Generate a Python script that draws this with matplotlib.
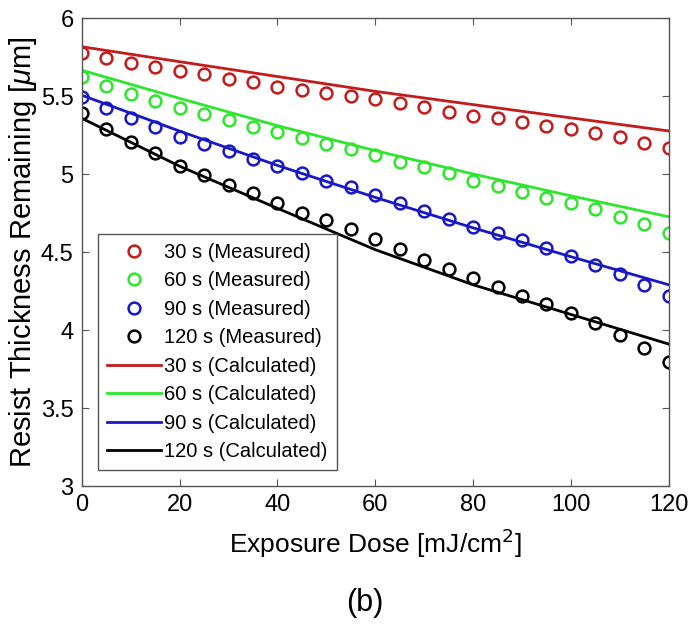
import numpy as np
import matplotlib.pyplot as plt

plt.rcParams['font.family'] = ['Liberation Sans', 'DejaVu Sans']
plt.rcParams['mathtext.fontset'] = 'custom'
plt.rcParams['mathtext.it'] = 'Liberation Sans:italic'

# exposure dose (mJ/cm2)
dose = np.arange(0, 121, 5)
dose_calc = np.arange(0, 121, 20)

# measured thickness (um) for each develop time
meas_30 = [5.774, 5.741, 5.709, 5.684, 5.660, 5.639, 5.611, 5.588, 5.560, 5.538, 5.517, 5.500, 5.479,
           5.453, 5.428, 5.400, 5.374, 5.357, 5.335, 5.308, 5.288, 5.261, 5.235, 5.201, 5.169]
meas_60 = [5.620, 5.566, 5.513, 5.468, 5.421, 5.383, 5.346, 5.303, 5.267, 5.229, 5.192, 5.158, 5.122,
           5.079, 5.043, 5.004, 4.957, 4.925, 4.887, 4.848, 4.812, 4.774, 4.726, 4.679, 4.620]
meas_90 = [5.496, 5.421, 5.361, 5.303, 5.239, 5.192, 5.147, 5.094, 5.054, 5.004, 4.957, 4.919, 4.865,
           4.812, 4.763, 4.712, 4.662, 4.620, 4.577, 4.524, 4.474, 4.417, 4.359, 4.288, 4.218]
meas_120 = [5.393, 5.288, 5.203, 5.132, 5.054, 4.994, 4.929, 4.876, 4.812, 4.752, 4.705, 4.645, 4.583,
            4.517, 4.449, 4.391, 4.331, 4.278, 4.220, 4.165, 4.107, 4.047, 3.968, 3.883, 3.797]

# model curves
calc_30 = [5.816, 5.720, 5.625, 5.530, 5.445, 5.360, 5.276]
calc_60 = [5.665, 5.485, 5.310, 5.150, 5.000, 4.860, 4.726]
calc_90 = [5.505, 5.275, 5.055, 4.850, 4.655, 4.470, 4.290]
calc_120 = [5.357, 5.050, 4.780, 4.515, 4.290, 4.100, 3.910]

times = ['30 s', '60 s', '90 s', '120 s']
colors = ['#c41c1c', '#2ee62e', '#1818c8', '#000000']
measured = [meas_30, meas_60, meas_90, meas_120]
calculated = [calc_30, calc_60, calc_90, calc_120]

fig = plt.figure(figsize=(6.88, 6.26), dpi=100)
ax = fig.add_axes([0.119, 0.2236, 0.853, 0.7476])

for t, c, m in zip(times, colors, measured):
    ax.plot(dose, m, 'o', ms=8.5, mfc='none', mec=c, mew=1.8, label=t + ' (Measured)')
for t, c, y in zip(times, colors, calculated):
    ax.plot(dose_calc, y, '-', color=c, lw=2.0, label=t + ' (Calculated)')

ax.set_xlim(0, 120)
ax.set_ylim(3, 6)
ax.set_xticks(np.arange(0, 121, 20))
ax.set_yticks([3, 3.5, 4, 4.5, 5, 5.5, 6])
ax.set_yticklabels(['3', '3.5', '4', '4.5', '5', '5.5', '6'])
ax.tick_params(direction='in', length=5, width=0.8, color='#555555', labelsize=17,
               top=True, right=True, pad=6)
for s in ax.spines.values():
    s.set_color('#555555')
    s.set_linewidth(1.0)

ax.set_xlabel('Exposure Dose [mJ/cm$^2$]', fontsize=19, labelpad=8)
ax.set_ylabel('Resist Thickness Remaining [$\\mu$m]', fontsize=21, labelpad=1)

leg = ax.legend(loc='lower left', bbox_to_anchor=(0.027, 0.034), borderaxespad=0,
                fontsize=14.5, numpoints=1, handlelength=2.7, handletextpad=0.15,
                labelspacing=0.47, fancybox=False, framealpha=1, borderpad=0.45)
leg.get_frame().set_edgecolor('#555555')
leg.get_frame().set_linewidth(1.0)

fig.text(0.53, 0.037, '(b)', ha='center', va='center', fontsize=22)

fig.savefig('out.png', dpi=100)
